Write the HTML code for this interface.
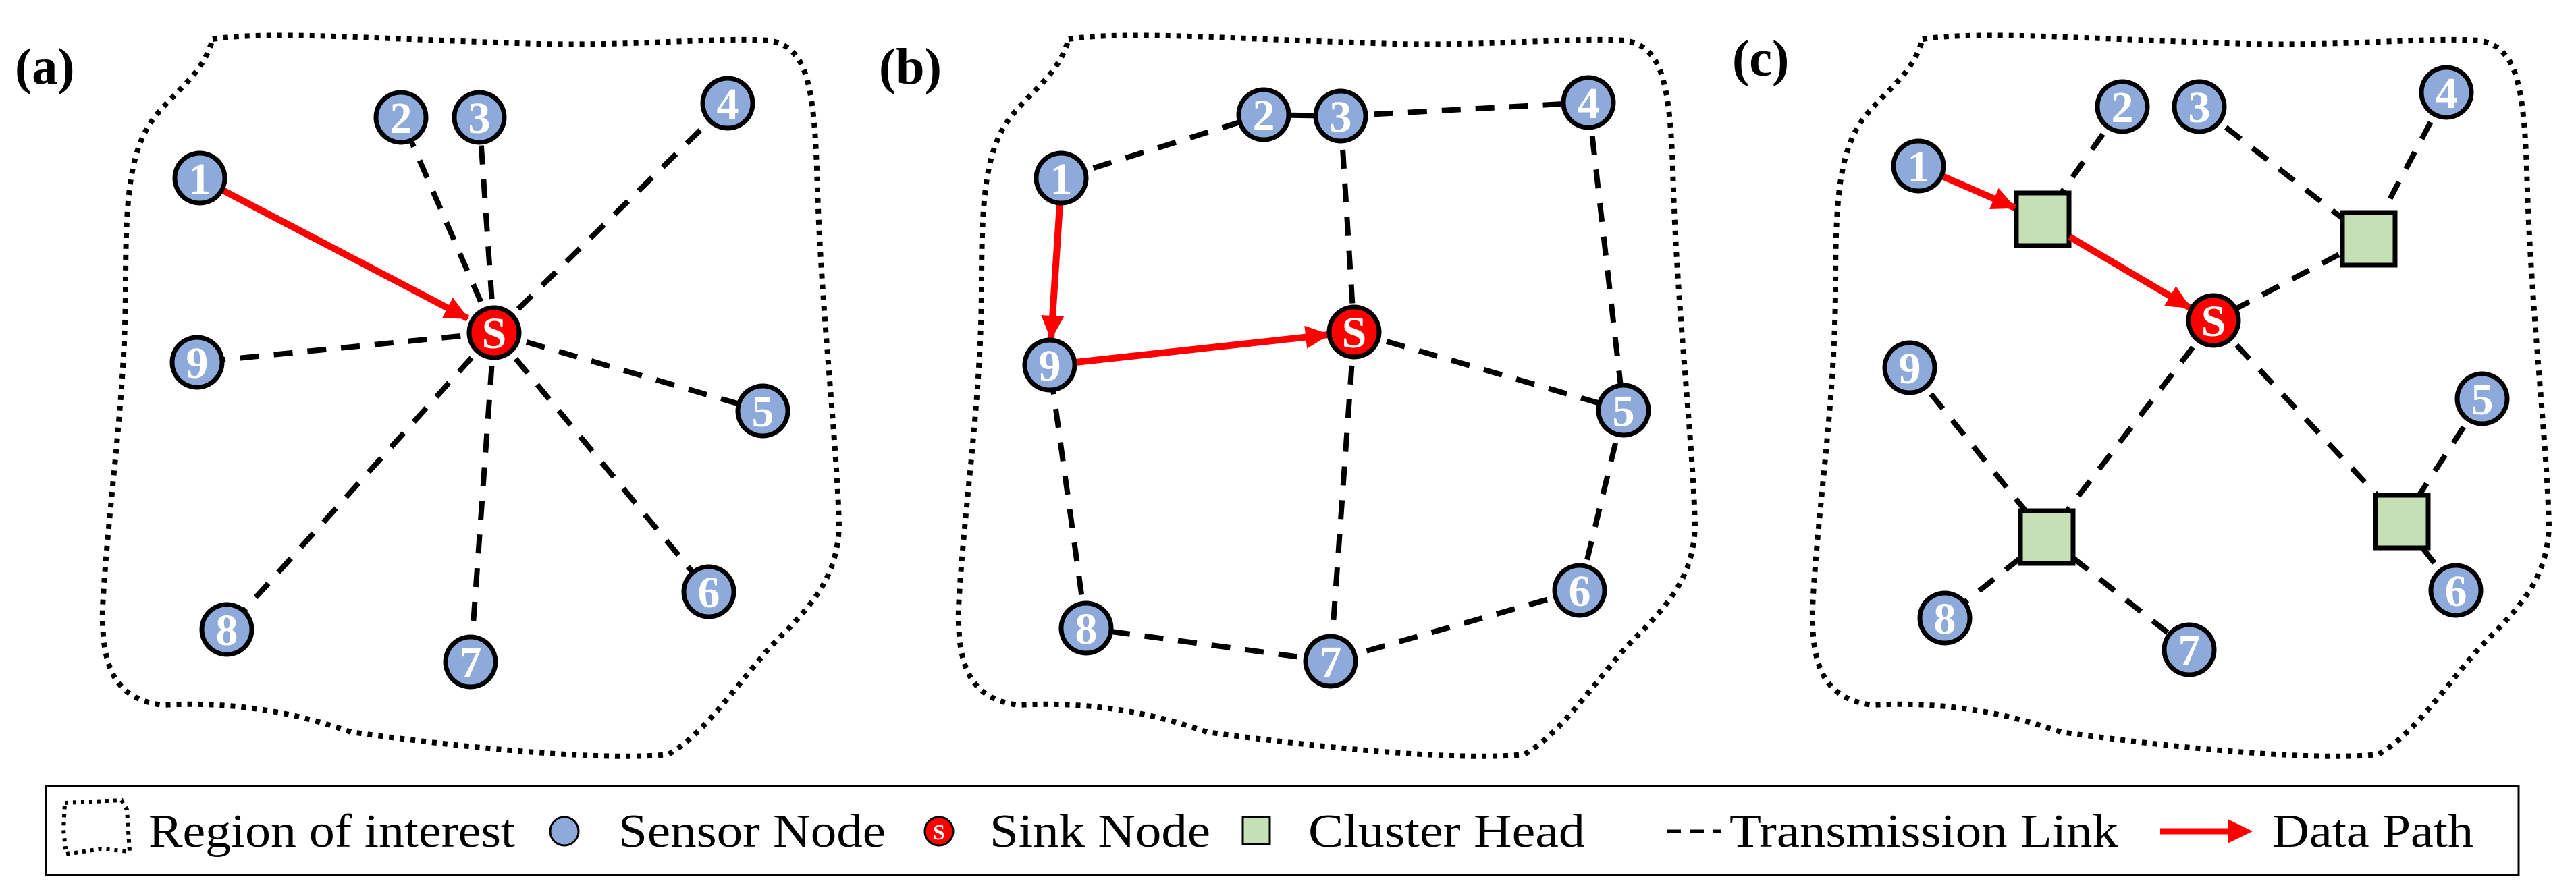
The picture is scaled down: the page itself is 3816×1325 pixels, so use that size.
<!DOCTYPE html>
<html><head><meta charset="utf-8"><style>html,body{margin:0;padding:0;background:#fff}svg{display:block}</style></head>
<body>
<svg width="3816" height="1325" viewBox="0 0 3816 1325" xmlns="http://www.w3.org/2000/svg">
<defs>
<marker id="ah" markerUnits="userSpaceOnUse" markerWidth="36" markerHeight="36" refX="34" refY="18" orient="auto"><path d="M0,1 L36,18 L0,35 z" fill="#ff0000"/></marker>
<path id="reg" d="M315,58 C400,45 560,58 800,65 C950,68 1060,55 1140,60 C1190,70 1205,110 1210,250 C1215,450 1240,650 1243,780 C1240,860 1200,900 1140,960 C1080,1030 1040,1090 990,1118 C900,1128 700,1110 520,1085 C420,1050 330,1040 240,1045 C170,1035 150,990 152,900 C160,750 185,600 186,430 C186,300 190,220 232,170 C265,130 300,110 315,58 Z"/>
</defs>
<style>
.lbl{font-family:"Liberation Serif",serif;font-weight:bold;font-size:76px;fill:#000}
.reg{fill:none;stroke:#000;stroke-width:8;stroke-dasharray:7 9}
.dl{stroke:#000;stroke-width:8;stroke-dasharray:28 22;fill:none}
.sl{stroke:#000;stroke-width:8}
.ar{stroke:#ff0000;stroke-width:10;fill:none;marker-end:url(#ah)}
.n{fill:#8eaadb;stroke:#000;stroke-width:7}
.s{fill:#ff0000;stroke:#000;stroke-width:7}
.ch{fill:#c5e0b4;stroke:#000;stroke-width:7}
.nt{font-family:"Liberation Serif",serif;font-weight:bold;font-size:66px;fill:#fff;text-anchor:middle}
.lg{font-family:"Liberation Serif",serif;font-size:70px;fill:#000}
</style>

<text class="lbl" x="22" y="124">(a)</text>
<text class="lbl" x="1302" y="124">(b)</text>
<text class="lbl" x="2566" y="112">(c)</text>

<use href="#reg" class="reg"/>
<use href="#reg" class="reg" transform="translate(1268,0)"/>
<use href="#reg" class="reg" transform="translate(2533,0)"/>

<g>
<line class="dl" x1="732" y1="493" x2="594" y2="174"/>
<line class="dl" x1="732" y1="493" x2="710" y2="174"/>
<line class="dl" x1="732" y1="493" x2="1078" y2="153"/>
<line class="dl" x1="732" y1="493" x2="292" y2="537"/>
<line class="dl" x1="732" y1="493" x2="1130" y2="609"/>
<line class="dl" x1="732" y1="493" x2="1050" y2="877"/>
<line class="dl" x1="732" y1="493" x2="697" y2="981"/>
<line class="dl" x1="732" y1="493" x2="336" y2="933"/>
<line class="ar" x1="330" y1="282" x2="693" y2="472"/>
<circle class="n" cx="296" cy="264" r="37"/><text class="nt" x="296" y="287">1</text>
<circle class="n" cx="594" cy="174" r="37"/><text class="nt" x="594" y="197">2</text>
<circle class="n" cx="710" cy="174" r="37"/><text class="nt" x="710" y="197">3</text>
<circle class="n" cx="1078" cy="153" r="37"/><text class="nt" x="1078" y="176">4</text>
<circle class="n" cx="1130" cy="609" r="37"/><text class="nt" x="1130" y="632">5</text>
<circle class="n" cx="1050" cy="877" r="37"/><text class="nt" x="1050" y="900">6</text>
<circle class="n" cx="697" cy="981" r="37"/><text class="nt" x="697" y="1004">7</text>
<circle class="n" cx="336" cy="933" r="37"/><text class="nt" x="336" y="956">8</text>
<circle class="n" cx="292" cy="537" r="37"/><text class="nt" x="292" y="560">9</text>
<circle class="s" cx="732" cy="493" r="37"/><text class="nt" x="732" y="516">S</text>
</g>

<g>
<line class="dl" x1="1572" y1="264" x2="1872" y2="170"/>
<line class="sl" x1="1872" y1="170" x2="1986" y2="172"/>
<line class="dl" x1="1986" y1="172" x2="2353" y2="152"/>
<line class="dl" x1="1986" y1="172" x2="2006" y2="492"/>
<line class="dl" x1="2353" y1="152" x2="2405" y2="608"/>
<line class="dl" x1="2006" y1="492" x2="2405" y2="608"/>
<line class="dl" x1="2405" y1="608" x2="2340" y2="875"/>
<line class="dl" x1="2340" y1="875" x2="1971" y2="980"/>
<line class="dl" x1="1971" y1="980" x2="1609" y2="931"/>
<line class="dl" x1="1609" y1="931" x2="1555" y2="541"/>
<line class="dl" x1="2006" y1="492" x2="1971" y2="980"/>
<line class="ar" x1="1570" y1="302" x2="1557" y2="502"/>
<line class="ar" x1="1593" y1="537" x2="1968" y2="496"/>
<circle class="n" cx="1572" cy="264" r="37"/><text class="nt" x="1572" y="287">1</text>
<circle class="n" cx="1872" cy="170" r="37"/><text class="nt" x="1872" y="193">2</text>
<circle class="n" cx="1986" cy="172" r="37"/><text class="nt" x="1986" y="195">3</text>
<circle class="n" cx="2353" cy="152" r="37"/><text class="nt" x="2353" y="175">4</text>
<circle class="n" cx="2405" cy="608" r="37"/><text class="nt" x="2405" y="631">5</text>
<circle class="n" cx="2340" cy="875" r="37"/><text class="nt" x="2340" y="898">6</text>
<circle class="n" cx="1971" cy="980" r="37"/><text class="nt" x="1971" y="1003">7</text>
<circle class="n" cx="1609" cy="931" r="37"/><text class="nt" x="1609" y="954">8</text>
<circle class="n" cx="1555" cy="541" r="37"/><text class="nt" x="1555" y="564">9</text>
<circle class="s" cx="2006" cy="492" r="37"/><text class="nt" x="2006" y="515">S</text>
</g>

<g>
<line class="dl" x1="3144" y1="158" x2="3026" y2="325"/>
<line class="dl" x1="3258" y1="158" x2="3509" y2="354"/>
<line class="dl" x1="3624" y1="137" x2="3509" y2="354"/>
<line class="dl" x1="3509" y1="354" x2="3279" y2="475"/>
<line class="dl" x1="3279" y1="475" x2="3032" y2="796"/>
<line class="dl" x1="3279" y1="475" x2="3558" y2="773"/>
<line class="dl" x1="2829" y1="545" x2="3032" y2="796"/>
<line class="dl" x1="3032" y1="796" x2="2881" y2="916"/>
<line class="dl" x1="3032" y1="796" x2="3243" y2="963"/>
<line class="dl" x1="3677" y1="591" x2="3558" y2="773"/>
<line class="dl" x1="3558" y1="773" x2="3638" y2="875"/>
<rect class="ch" x="2987" y="286" width="78" height="78"/>
<rect class="ch" x="3470" y="315" width="78" height="78"/>
<rect class="ch" x="2993" y="757" width="78" height="78"/>
<rect class="ch" x="3519" y="734" width="78" height="78"/>
<line class="ar" x1="2877" y1="261" x2="2985" y2="308"/>
<line class="ar" x1="3066" y1="351" x2="3244" y2="456"/>
<circle class="n" cx="2842" cy="246" r="37"/><text class="nt" x="2842" y="269">1</text>
<circle class="n" cx="3144" cy="158" r="37"/><text class="nt" x="3144" y="181">2</text>
<circle class="n" cx="3258" cy="158" r="37"/><text class="nt" x="3258" y="181">3</text>
<circle class="n" cx="3624" cy="137" r="37"/><text class="nt" x="3624" y="160">4</text>
<circle class="n" cx="3677" cy="591" r="37"/><text class="nt" x="3677" y="614">5</text>
<circle class="n" cx="3638" cy="875" r="37"/><text class="nt" x="3638" y="898">6</text>
<circle class="n" cx="3243" cy="963" r="37"/><text class="nt" x="3243" y="986">7</text>
<circle class="n" cx="2881" cy="916" r="37"/><text class="nt" x="2881" y="939">8</text>
<circle class="n" cx="2829" cy="545" r="37"/><text class="nt" x="2829" y="568">9</text>
<circle class="s" cx="3279" cy="475" r="37"/><text class="nt" x="3279" y="498">S</text>
</g>

<rect x="68" y="1165" width="3663" height="132" fill="none" stroke="#000" stroke-width="3"/>
<path d="M96,1190 L180,1186 L188,1200 L192,1262 L150,1258 L98,1266 L94,1230 Z" fill="none" stroke="#000" stroke-width="6" style="stroke-dasharray:5 7"/>
<text class="lg" x="220" y="1255" textLength="543" lengthAdjust="spacingAndGlyphs">Region of interest</text>
<circle cx="836" cy="1232" r="21" fill="#8eaadb" stroke="#000" stroke-width="3"/>
<text class="lg" x="916" y="1255" textLength="396" lengthAdjust="spacingAndGlyphs">Sensor Node</text>
<circle cx="1391" cy="1232" r="21" fill="#ff0000" stroke="#000" stroke-width="3"/>
<text x="1391" y="1244" font-family="Liberation Serif,serif" font-weight="bold" font-size="32" fill="#fff" text-anchor="middle">S</text>
<text class="lg" x="1466" y="1255" textLength="327" lengthAdjust="spacingAndGlyphs">Sink Node</text>
<rect x="1841" y="1211" width="40" height="40" fill="#c5e0b4" stroke="#000" stroke-width="3"/>
<text class="lg" x="1938" y="1255" textLength="410" lengthAdjust="spacingAndGlyphs">Cluster Head</text>
<line x1="2470" y1="1232" x2="2550" y2="1232" stroke="#000" stroke-width="5" stroke-dasharray="20 14"/>
<text class="lg" x="2562" y="1255" textLength="576" lengthAdjust="spacingAndGlyphs">Transmission Link</text>
<line x1="3200" y1="1232" x2="3305" y2="1232" stroke="#ff0000" stroke-width="9"/>
<path d="M3300,1214 L3337,1232 L3300,1250 z" fill="#ff0000"/>
<text class="lg" x="3366" y="1255" textLength="298" lengthAdjust="spacingAndGlyphs">Data Path</text>
</svg>
</body></html>
